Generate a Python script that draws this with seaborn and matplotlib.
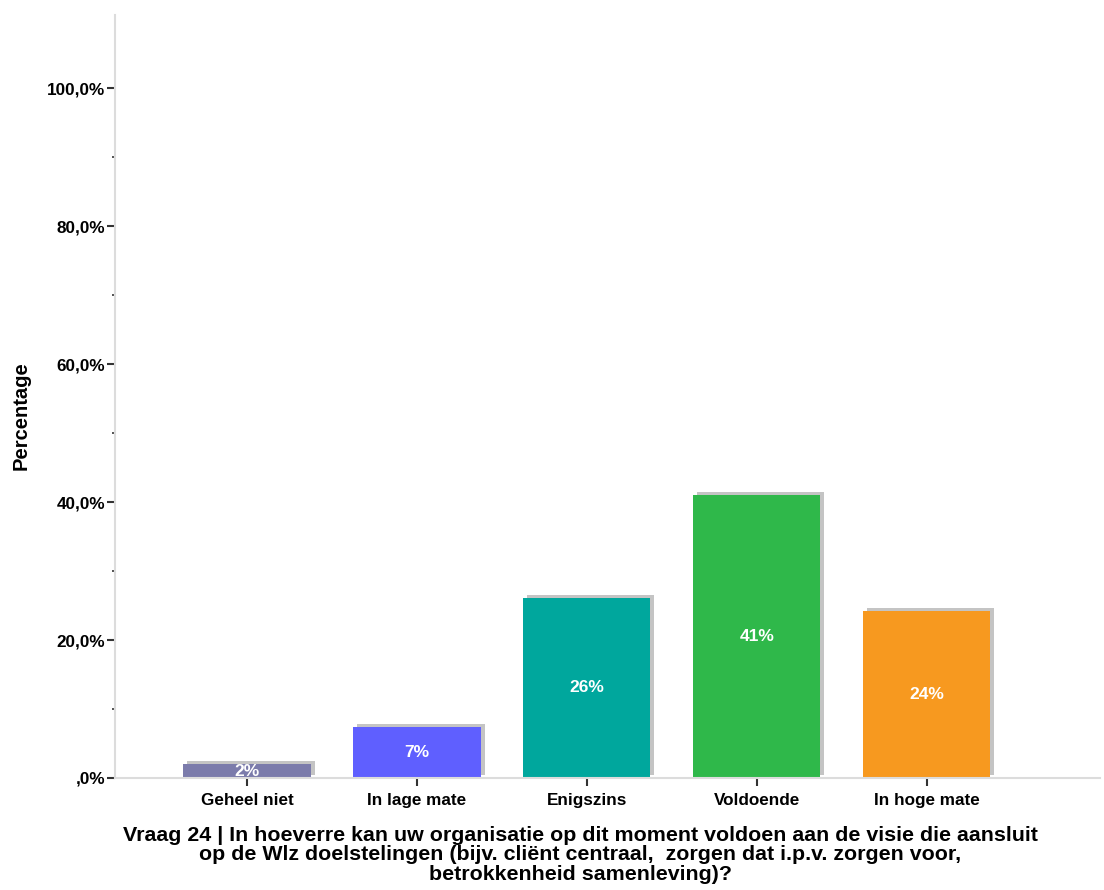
import pandas as pd
import matplotlib
matplotlib.use('Agg')
import matplotlib.pyplot as plt
import matplotlib.transforms as mtransforms
from matplotlib.ticker import FixedLocator, FuncFormatter
import seaborn as sns

# data
categories = ['Geheel niet', 'In lage mate', 'Enigszins', 'Voldoende', 'In hoge mate']
percentages = [2.0, 7.4, 26.1, 41.0, 24.2]
bar_labels = ['2%', '7%', '26%', '41%', '24%']
colors = ['#7b7bab', '#5f5fff', '#00a79d', '#2fb84a', '#f7991f']
y_ticks = [0, 20, 40, 60, 80, 100]
y_minor = [10, 30, 50, 70, 90]

df = pd.DataFrame({'cat': categories, 'pct': percentages})

sns.set_style('white')
plt.rcParams['font.family'] = ['Liberation Sans', 'DejaVu Sans']
plt.rcParams['text.color'] = 'black'
plt.rcParams['axes.labelcolor'] = 'black'
plt.rcParams['xtick.color'] = 'black'
plt.rcParams['ytick.color'] = 'black'

fig = plt.figure(figsize=(11.04, 8.9), dpi=100)
ax = fig.add_axes([115 / 1104, 1 - 778 / 890, 985 / 1104, 763 / 890])

# gray shadow bars, shifted right and up
sns.barplot(data=df, x='cat', y='pct', color='#c4c4c4', width=0.75, saturation=1, ax=ax)
shadow = list(ax.patches)
offset = mtransforms.offset_copy(ax.transData, fig=fig, x=4, y=3, units='dots')
for p in shadow:
    p.set_transform(offset)
    p.set_edgecolor('none')

sns.barplot(data=df, x='cat', y='pct', hue='cat', palette=colors, width=0.75,
            saturation=1, legend=False, ax=ax)
for p in ax.patches[len(shadow):]:
    p.set_edgecolor('none')

for i, (v, lab) in enumerate(zip(percentages, bar_labels)):
    ax.text(i, v / 2, lab, ha='center', va='center', color='white',
            fontsize=12.5, fontweight='bold')

ax.set_xlim(-0.776, 5.02)
ax.set_ylim(0, 110.6)
ax.yaxis.set_major_locator(FixedLocator(y_ticks))
ax.yaxis.set_minor_locator(FixedLocator(y_minor))
ax.yaxis.set_major_formatter(FuncFormatter(lambda v, _: (',0%' if v == 0 else f'{v:.1f}%'.replace('.', ','))))

for s in ['top', 'right']:
    ax.spines[s].set_visible(False)
for s in ['left', 'bottom']:
    ax.spines[s].set_color('#dcdcdc')
    ax.spines[s].set_linewidth(1.5)

ax.tick_params(axis='y', which='major', left=True, length=6, width=1.5, color='#333333',
               labelsize=12.3, pad=1)
ax.tick_params(axis='y', which='minor', left=True, length=2.5, width=1.2, color='#333333')
ax.tick_params(axis='x', bottom=True, length=6, width=1.5, color='#333333',
               labelsize=12.3, pad=5)
for t in ax.get_xticklabels() + ax.get_yticklabels():
    t.set_fontweight('bold')

ax.set_ylabel('Percentage', fontsize=14.5, fontweight='bold')
ax.yaxis.set_label_coords((21 - 115) / 985, (778 - 416) / 763, transform=ax.transAxes)
ax.yaxis.label.set_verticalalignment('center')

ax.set_xlabel('Vraag 24 | In hoeverre kan uw organisatie op dit moment voldoen aan de visie die aansluit\n'
              'op de Wlz doelstelingen (bijv. cliënt centraal,  zorgen dat i.p.v. zorgen voor,\n'
              'betrokkenheid samenleving)?',
              fontsize=15.4, fontweight='bold', linespacing=1.03)
ax.xaxis.set_label_coords(0.5 - 27 / 985, -48 / 763, transform=ax.transAxes)
ax.xaxis.label.set_verticalalignment('top')

fig.savefig('out.png', dpi=100)
